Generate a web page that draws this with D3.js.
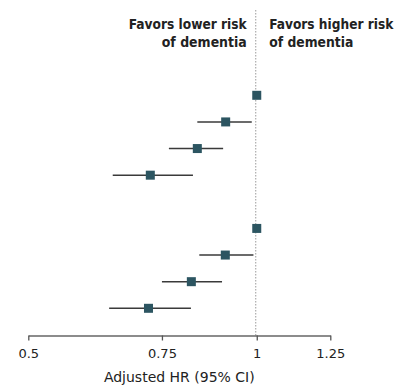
<!DOCTYPE html>
<html>
<head>
<meta charset="utf-8">
<script src="https://cdn.jsdelivr.net/npm/d3@7"></script>
<style>
  html, body { margin: 0; padding: 0; background: #fff; }
  svg { display: block; }
</style>
</head>
<body>
<svg id="chart" width="405" height="386"></svg>
<script>
// Row slots: two groups of four estimates, separated by one empty slot
const rows = ["a1", "a2", "a3", "a4", "gap", "b1", "b2", "b3", "b4"];
const estimateRows = ["a1", "a2", "a3", "a4", "b1", "b2", "b3", "b4"];
const hr = [1.0, 0.91, 0.835, 0.724, 1.0, 0.909, 0.82, 0.72];
const ciLow = [null, 0.835, 0.766, 0.646, null, 0.84, 0.75, 0.639];
const ciHigh = [null, 0.985, 0.903, 0.824, null, 0.99, 0.9, 0.819];
const tickValues = [0.5, 0.75, 1, 1.25];
const tickLabels = ["0.5", "0.75", "1", "1.25"];
const leftHeader = ["Favors lower risk", "of dementia"];
const rightHeader = ["Favors higher risk", "of dementia"];
const axisTitle = "Adjusted HR (95% CI)";

const data = estimateRows.map((r, i) => ({ row: r, hr: hr[i], lo: ciLow[i], hi: ciHigh[i] }));

const svg = d3.select("#chart");
const bodyFont = "'DejaVu Sans', sans-serif";
const headFont = "'DejaVu Sans Condensed', 'DejaVu Sans', sans-serif";

const x = d3.scaleLog().domain([0.5, 1.25]).range([28.3, 330.3]);
const y = d3.scalePoint().domain(rows).range([95.3, 308.3]);
const axisY = 335.5;

// Reference line at HR = 1
svg.append("line")
  .attr("x1", x(1) - 1).attr("x2", x(1) - 1)
  .attr("y1", 10).attr("y2", axisY)
  .attr("stroke", "#9a9a9a")
  .attr("stroke-width", 1)
  .attr("stroke-dasharray", "1.5,1.5");

// Column headers on either side of the reference line (narrowed to a condensed look)
const hdr = svg.append("g").attr("font-family", headFont).attr("font-weight", "bold")
  .attr("font-size", 14.5).attr("fill", "#222");
const headWidths = [[118, 85], [124, 84]];
[leftHeader, rightHeader].forEach((lines, side) => {
  const anchorX = side === 0 ? x(1) - 10 : x(1) + 12.5;
  lines.forEach((s, i) => {
    const w = headWidths[side][i];
    hdr.append("text")
      .attr("x", side === 0 ? anchorX - w : anchorX)
      .attr("y", 28.5 + i * 18)
      .attr("textLength", w)
      .attr("lengthAdjust", "spacingAndGlyphs")
      .text(s);
  });
});

// Confidence intervals
svg.append("g").selectAll("line")
  .data(data.filter(d => d.lo !== null))
  .join("line")
  .attr("x1", d => x(d.lo)).attr("x2", d => x(d.hi))
  .attr("y1", d => y(d.row)).attr("y2", d => y(d.row))
  .attr("stroke", "#3a3a3a")
  .attr("stroke-width", 1.4);

// Point estimates
const sq = 9;
svg.append("g").selectAll("rect")
  .data(data)
  .join("rect")
  .attr("x", d => x(d.hr) - sq / 2)
  .attr("y", d => y(d.row) - sq / 2)
  .attr("width", sq).attr("height", sq)
  .attr("fill", "#2c5561");

// X axis
const axis = d3.axisBottom(x)
  .tickValues(tickValues)
  .tickFormat((d, i) => tickLabels[i])
  .tickSize(5)
  .tickSizeOuter(0)
  .tickPadding(8);
const gx = svg.append("g").attr("transform", `translate(0,${axisY})`).call(axis);
gx.select(".domain").attr("stroke", "#666").attr("stroke-width", 1.3);
gx.selectAll(".tick line").attr("stroke", "#555").attr("stroke-width", 1.3);
gx.selectAll(".tick text").attr("font-family", bodyFont).attr("font-size", 13).attr("fill", "#222");

svg.append("text")
  .attr("x", (x(0.5) + x(1.25)) / 2)
  .attr("y", 382)
  .attr("text-anchor", "middle")
  .attr("font-family", bodyFont)
  .attr("font-size", 14)
  .attr("fill", "#222")
  .text(axisTitle);
</script>
</body>
</html>
